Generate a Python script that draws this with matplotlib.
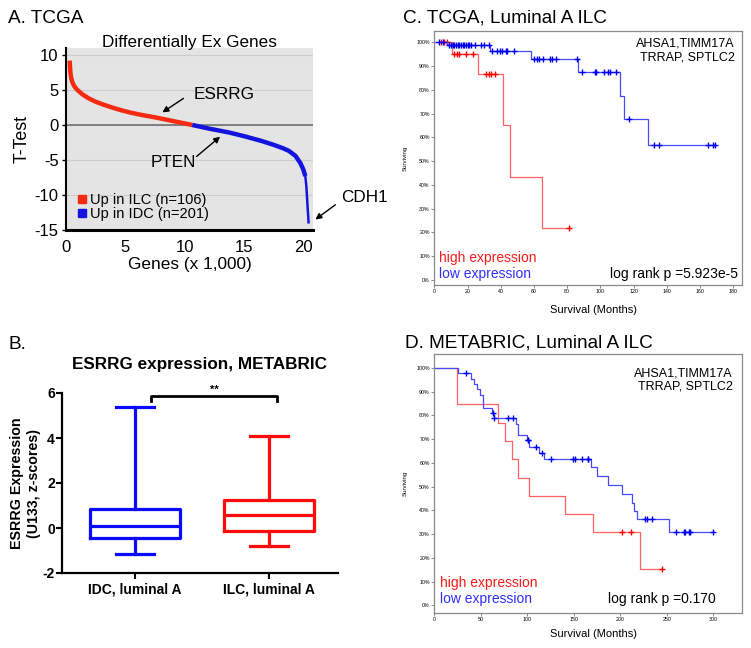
import numpy as np
import matplotlib.pyplot as plt
from matplotlib.lines import Line2D

plt.rcParams['font.family'] = ['Liberation Sans', 'DejaVu Sans']
plt.rcParams['axes.unicode_minus'] = False

W, H = 751, 648

# A. ranked t-test of genes (x axis in thousands of genes)
ilc_rank = [0.35, 0.38, 0.42, 0.48, 0.58, 0.75, 1.0, 1.4, 1.9, 2.5, 3.2, 4.0, 4.7,
            5.5, 6.5, 7.5, 8.5, 9.5, 10.65]
ilc_t = [9.2, 8.3, 7.4, 6.7, 6.1, 5.5, 5.0, 4.4, 3.85, 3.35, 2.9, 2.45, 2.1,
         1.75, 1.4, 1.1, 0.75, 0.4, 0.0]
idc_rank = [10.65, 12.0, 13.7, 15.0, 16.5, 17.5, 18.3, 18.75, 19.3, 19.7, 19.95,
            20.13, 20.22, 20.28, 20.33, 20.38, 20.4]
idc_t = [0.0, -0.5, -1.06, -1.6, -2.3, -2.85, -3.35, -3.7, -4.4, -5.4, -6.3,
         -7.3, -8.8, -10.5, -12.0, -13.2, -13.9]
n_ilc, n_idc = 106, 201

# B. ESRRG expression box plot
groups = ['IDC, luminal A', 'ILC, luminal A']
box_lo = [-1.17, -0.81]
box_q1 = [-0.44, -0.12]
box_med = [0.08, 0.6]
box_q3 = [0.84, 1.23]
box_hi = [5.36, 4.07]

# C. TCGA Kaplan-Meier
tcga_high_t = [0, 10.5, 26.5, 41.6, 45.6, 65.0, 81.0]
tcga_high_s = [100, 95.2, 86.6, 65.0, 43.3, 21.7, 21.7]
tcga_high_cens = [4, 6, 7.4, 11.8, 13.5, 15, 19, 23.5, 31, 33, 34, 36.5, 81]
tcga_low_t = [0, 7.5, 33.8, 58.3, 86.5, 111.8, 114.2, 128.5, 169]
tcga_low_s = [100, 98.8, 96.3, 92.8, 87.3, 77.6, 67.9, 56.6, 56.6]
tcga_low_cens = [3, 5.4, 9, 10, 11, 12, 13, 14, 15, 16, 17, 18, 19, 20, 21, 22,
                 24.5, 28, 30, 33, 34.5, 38, 39.5, 41, 43, 43.6, 48, 60, 61.6,
                 63, 65.7, 69.7, 70.7, 73, 85.7, 89, 96.8, 97.4, 102.4, 104.4,
                 105.8, 109.2, 116.9, 132, 135.5, 165, 168, 168.7]

# D. METABRIC Kaplan-Meier
metab_high_t = [0, 24, 68.8, 76, 83.9, 90.3, 101.8, 140.5, 171, 221, 245]
metab_high_s = [100, 84.6, 76.9, 69.2, 61.5, 53.8, 46.2, 38.5, 30.8, 15.4, 15.4]
metab_high_cens = [202, 212, 245]
metab_low_t = [0, 25.8, 39, 42.7, 45.5, 49, 52, 62, 63.8, 88, 89.6, 99.3, 102,
               113, 118.3, 168.5, 174.6, 186.4, 202, 212.2, 214.7, 217.6, 252.3, 300]
metab_low_s = [100, 97.6, 95.3, 93.0, 90.9, 88.7, 83.0, 80.9, 78.8, 76.3, 71.8,
               69.4, 66.8, 64.1, 61.5, 58.1, 54.3, 50.6, 47.0, 43.2, 39.9, 36.2,
               30.9, 30.9]
metab_low_cens = [33.7, 63, 64.5, 78.9, 85, 100.4, 101, 109.3, 116, 125.4, 148.7,
                  151, 158.4, 164.9, 165.6, 226.5, 228.3, 233.7, 259.5, 268.5,
                  269.5, 274.2, 274.9, 300]

gene_lines = ['AHSA1,TIMM17A', 'TRRAP, SPTLC2']


def box(l, t, r, b):
    return [l / W, 1 - b / H, (r - l) / W, (b - t) / H]


def ftext(x, y, s, **kw):
    fig.text(x / W, 1 - y / H, s, **kw)


fig = plt.figure(figsize=(W / 100, H / 100), dpi=100)

# ---------------- A
red_a, blue_a = '#f52a10', '#1414e0'
axA = fig.add_axes(box(65.5, 48, 313.3, 230))
axA.set_facecolor('#e4e4e4')
axA.set_xlim(0, 20.8)
axA.set_ylim(-15, 11)
axA.set_yticks([-15, -10, -5, 0, 5, 10])
axA.set_xticks([0, 5, 10, 15, 20])
axA.yaxis.grid(True, color='#cdcdcd', lw=0.8)
axA.set_axisbelow(True)
axA.axhline(0, color='#707070', lw=1.2, zorder=1)
axA.plot(ilc_rank, ilc_t, color=red_a, lw=3.2, solid_capstyle='butt', zorder=3)
ir = np.array(idc_rank)
it = np.array(idc_t)
body = ir <= 20.13
axA.plot(ir[body], it[body], color=blue_a, lw=3.2, solid_capstyle='butt', zorder=3)
axA.plot(ir[ir >= 20.13], it[ir >= 20.13], color=blue_a, lw=1.8, zorder=3)
for s in ['top', 'right']:
    axA.spines[s].set_visible(False)
axA.spines['left'].set_linewidth(1.5)
axA.spines['bottom'].set_linewidth(2.2)
axA.tick_params(axis='y', length=3, width=1, labelsize=12, pad=2)
axA.tick_params(axis='x', length=0, labelsize=12, pad=7)
axA.set_xlabel('Genes (x 1,000)', fontsize=12.4, labelpad=2)
axA.set_ylabel('T-Test', fontsize=12.8, labelpad=3)
axA.text(0.5, 1.003, 'Differentially Ex Genes', transform=axA.transAxes,
         ha='center', va='baseline', fontsize=12.3)
handles = [Line2D([], [], marker='s', ls='none', color=red_a, ms=6),
           Line2D([], [], marker='s', ls='none', color=blue_a, ms=6)]
axA.legend(handles, [f'Up in ILC (n={n_ilc})', f'Up in IDC (n={n_idc})'],
           loc='lower left', bbox_to_anchor=(0.05, 0.05), frameon=False,
           fontsize=10.5, handlelength=0.6, handletextpad=0.25, labelspacing=0.0,
           borderpad=0, borderaxespad=0)
arrow = dict(arrowstyle='-|>', color='black', lw=1, mutation_scale=9,
             shrinkA=0, shrinkB=0)
axA.text(10.74, 4.4, 'ESRRG', fontsize=12.3, ha='left', va='center')
axA.annotate('', xy=(8.13, 1.8), xytext=(9.9, 3.8), arrowprops=arrow)
axA.text(9.06, -5.4, 'PTEN', fontsize=12.3, ha='center', va='center')
axA.annotate('', xy=(12.98, -1.67), xytext=(11.0, -4.5), arrowprops=arrow)
axA.text(23.1, -10.4, 'CDH1', fontsize=12.3, ha='left', va='center', clip_on=False)
axA.annotate('', xy=(20.97, -13.5), xytext=(22.65, -11.4), arrowprops=arrow,
             annotation_clip=False)

# ---------------- B
axB = fig.add_axes(box(61.7, 393, 338.3, 573))
stats = [dict(med=box_med[i], q1=box_q1[i], q3=box_q3[i], whislo=box_lo[i],
              whishi=box_hi[i], label=groups[i]) for i in range(2)]
art = axB.bxp(stats, positions=[1, 2], widths=0.67, capwidths=0.28,
              showfliers=False)
box_cols = ['#0a0aff', '#ff0a0a']
for i, c in enumerate(box_cols):
    for a in [art['boxes'][i], art['medians'][i], art['whiskers'][2 * i],
              art['whiskers'][2 * i + 1], art['caps'][2 * i], art['caps'][2 * i + 1]]:
        a.set_color(c)
        a.set_linewidth(2.3)
axB.set_xlim(0.454, 2.514)
axB.set_ylim(-2, 6)
axB.set_yticks([-2, 0, 2, 4, 6])
for s in ['top', 'right']:
    axB.spines[s].set_visible(False)
for s in ['left', 'bottom']:
    axB.spines[s].set_linewidth(1.6)
axB.tick_params(length=4, width=1.5, labelsize=10)
axB.tick_params(axis='y', pad=1)
axB.tick_params(axis='x', pad=2.5)
for lab in axB.get_xticklabels() + axB.get_yticklabels():
    lab.set_fontweight('bold')
axB.set_ylabel('ESRRG Expression\n(U133, z-scores)', fontsize=10.3,
               fontweight='bold', labelpad=1, linespacing=1.25)
axB.set_title('ESRRG expression, METABRIC', fontsize=12.3, fontweight='bold', pad=17)
sig_x = [1.117, 2.06]
sig_y = 5.85
axB.plot([sig_x[0], sig_x[0], sig_x[1], sig_x[1]],
         [sig_y - 0.19, sig_y, sig_y, sig_y - 0.19], color='black', lw=2,
         clip_on=False)
axB.text(np.mean(sig_x), 6.12, '**', ha='center', va='center', fontsize=8,
         fontweight='bold')


# ---------------- C / D
def km_panel(ax, xmax, ylim, xticks, curves):
    for t, s, cens, lc, mc in curves:
        ax.step(t, s, where='post', color=lc, lw=0.9)
        idx = np.searchsorted(t, cens, side='right') - 1
        ax.plot(cens, np.array(s)[idx], ls='none', marker='+', ms=4.5,
                mew=1.0, color=mc)
    ax.set_xlim(0, xmax)
    ax.set_ylim(*ylim)
    ax.set_xticks(xticks)
    ax.set_yticks(range(0, 101, 10))
    ax.set_yticklabels([f'{v}%' for v in range(0, 101, 10)])
    for sp in ax.spines.values():
        sp.set_color('#8a8a8a')
        sp.set_linewidth(0.9)
    ax.tick_params(length=2.2, width=0.6, color='#777777', labelsize=3.8, pad=1)
    ax.set_ylabel('Surviving', fontsize=4.4, labelpad=6)


red_l, red_m = '#ff6060', '#ff0000'
blue_l, blue_m = '#4848ff', '#0000f0'
axC = fig.add_axes(box(434.3, 31, 742, 285))
km_panel(axC, 185.2, (-2.1, 104.75), range(0, 181, 20),
         [(tcga_high_t, tcga_high_s, tcga_high_cens, red_l, red_m),
          (tcga_low_t, tcga_low_s, tcga_low_cens, blue_l, blue_m)])
axD = fig.add_axes(box(434.3, 354, 742.3, 612.7))
km_panel(axD, 331.2, (-3.1, 105.8), range(0, 301, 50),
         [(metab_high_t, metab_high_s, metab_high_cens, red_l, red_m),
          (metab_low_t, metab_low_s, metab_low_cens, blue_l, blue_m)])

# texts placed in pixel coordinates
ftext(8.3, 22.7, 'A. TCGA', fontsize=13.7, va='baseline')
ftext(8.3, 349, 'B.', fontsize=13.7, va='baseline')
ftext(402.7, 22.7, 'C. TCGA, Luminal A ILC', fontsize=13.7, va='baseline')
ftext(405, 347.3, 'D. METABRIC, Luminal A ILC', fontsize=13.7, va='baseline')

for y, line in zip([46.7, 60.0], gene_lines):
    ftext(735, y, line, fontsize=9, ha='right', va='baseline')
for y, line in zip([376.7, 389.3], gene_lines):
    ftext(733, y, line, fontsize=9, ha='right', va='baseline')

ftext(439.3, 261.7, 'high expression', color='#ff1a1a', fontsize=10, va='baseline')
ftext(439.3, 278.3, 'low expression', color='#2e2eff', fontsize=10, va='baseline')
ftext(738.3, 278.3, 'log rank p =5.923e-5', fontsize=10, ha='right', va='baseline')
ftext(440, 587.3, 'high expression', color='#ff1a1a', fontsize=10, va='baseline')
ftext(440, 603.3, 'low expression', color='#2e2eff', fontsize=10, va='baseline')
ftext(716, 603.3, 'log rank p =0.170', fontsize=10, ha='right', va='baseline')

ftext(593, 313.3, 'Survival (Months)', fontsize=8, ha='center', va='baseline')
ftext(593, 637.3, 'Survival (Months)', fontsize=8, ha='center', va='baseline')

fig.savefig('out.png', dpi=100)
